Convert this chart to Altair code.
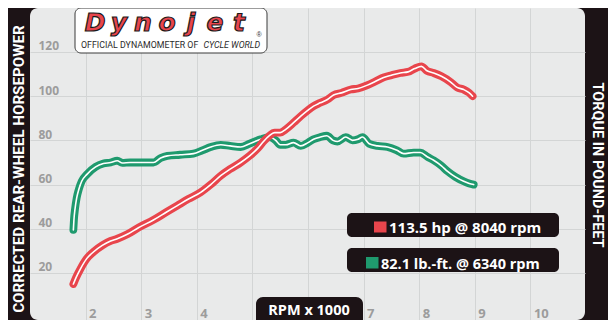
import altair as alt
import pandas as pd

# ---------------- data ----------------
hp_rpm = [1.78, 1.83, 1.91, 2.02, 2.14, 2.3, 2.45, 2.57, 2.75, 2.95, 3.22, 3.45, 3.65, 3.85,
          4.07, 4.25, 4.43, 4.6, 4.79, 4.95, 5.1, 5.2, 5.3, 5.4, 5.5, 5.6, 5.74, 5.87, 5.99,
          6.1, 6.22, 6.35, 6.46, 6.6, 6.77, 6.9, 7.07, 7.2, 7.36, 7.5, 7.66, 7.8, 7.92, 8.04,
          8.14, 8.26, 8.4, 8.56, 8.68, 8.8, 8.9, 8.96]
hp_val = [15, 18, 22, 26.5, 29.5, 32.5, 34.5, 35.5, 37.5, 40.5, 44, 47.5, 50.5, 53.5,
          56.5, 60, 64, 67, 70, 73, 76.5, 79.5, 82, 83.5, 83.5, 85, 88, 91, 93.5,
          95.5, 97, 98.5, 100.5, 101.5, 103, 103.5, 105, 106.5, 108.5, 109.5, 110.5, 111, 112.5, 113.5,
          111.5, 110.5, 109, 106.5, 104, 103, 101.5, 100]

tq_rpm = [1.78, 1.79, 1.81, 1.84, 1.88, 1.93, 2.02, 2.18, 2.32, 2.45, 2.57, 2.66, 2.8, 3.0,
          3.22, 3.35, 3.47, 3.7, 3.94, 4.1, 4.25, 4.43, 4.6, 4.79, 4.95, 5.15, 5.3, 5.42,
          5.5, 5.6, 5.74, 5.87, 6.0, 6.1, 6.22, 6.34, 6.45, 6.53, 6.68, 6.8, 6.9, 6.98,
          7.1, 7.25, 7.43, 7.6, 7.72, 7.9, 8.02, 8.15, 8.26, 8.4, 8.51, 8.65, 8.8, 8.9, 8.98]
tq_val = [39.5, 44, 49, 54, 58, 61.5, 64.5, 68, 69.5, 70, 70.8, 69.8, 70, 70,
          70, 72, 73, 73.5, 74, 75.5, 77, 78, 77.5, 77, 78.5, 80.5, 81.5, 80,
          78, 78, 79, 77.5, 79, 80.5, 81.5, 82.1, 80, 79.5, 81.5, 80, 80.5, 81.5,
          78.5, 77.5, 77, 75.5, 74, 74.5, 74.5, 72.5, 71, 68.5, 66, 63.5, 61.5, 60.5, 60]

x_ticks = [2, 3, 4, 5, 6, 7, 8, 9, 10]
y_ticks = [20, 40, 60, 80, 100, 120]

y_title_left = "CORRECTED REAR-WHEEL HORSEPOWER"
y_title_right = "TORQUE IN POUND-FEET"
x_title = "RPM x 1000"
legend_hp = "113.5 hp @ 8040 rpm"
legend_tq = "82.1 lb.-ft. @ 6340 rpm"
logo_letters = list("Dynojet")
logo_sub1 = "OFFICIAL DYNAMOMETER OF"
logo_sub2 = "CYCLE WORLD"

RED = "#e8454c"
GREEN = "#1f9a6e"
DARK = "#1c1316"
PANEL = "#e9eaea"

hp_df = pd.DataFrame({"rpm": hp_rpm, "v": hp_val})
tq_df = pd.DataFrame({"rpm": tq_rpm, "v": tq_val})
one = pd.DataFrame({"a": [0]})

xs = alt.Scale(domain=[1, 10.982], nice=False, zero=False)
ys = alt.Scale(domain=[-1.27, 139.9], nice=False, zero=False)

x_enc = alt.X("rpm:Q", scale=xs, axis=alt.Axis(
    values=x_ticks, grid=True, domain=False, ticks=False, title=None,
    labelAlign="left", labelBaseline="alphabetic", labelPadding=-3, labelOffset=3,
    labelFontSize=13, labelExpr="datum.value == 5 || datum.value == 6 ? '' : datum.label"))
y_enc = alt.Y("v:Q", scale=ys, axis=alt.Axis(
    values=y_ticks, grid=True, domain=False, ticks=False, title=None,
    labelAlign="left", labelBaseline="alphabetic", labelPadding=-8, labelOffset=-2,
    labelFontSize=12))


def curve(df, color, width, with_axes=False):
    enc = dict(x=x_enc, y=y_enc) if with_axes else dict(x=alt.X("rpm:Q", scale=xs),
                                                        y=alt.Y("v:Q", scale=ys))
    return alt.Chart(df).mark_line(color=color, strokeWidth=width, strokeCap="round",
                                   strokeJoin="round", interpolate="monotone").encode(**enc)


lines = [
    curve(tq_df, GREEN, 7.8, with_axes=True),
    curve(tq_df, "white", 1.6),
    curve(hp_df, RED, 7.8),
    curve(hp_df, "white", 1.6),
]


def box(x, x2, y, y2, fill, **kw):
    return alt.Chart(one).mark_rect(fill=fill, **kw).encode(
        x=alt.value(x), x2=alt.value(x2), y=alt.value(y), y2=alt.value(y2))


def label(x, y, text, **kw):
    return alt.Chart(one).mark_text(text=text, **kw).encode(x=alt.value(x), y=alt.value(y))


TITLE_FONT = "Roboto"

deco = [
    # side titles on black bars
    label(-11, 161, y_title_left, angle=270, font=TITLE_FONT, fontWeight="bold",
          fontSize=15.2, color="white", align="center", baseline="middle"),
    label(567, 157, y_title_right, angle=90, font=TITLE_FONT, fontWeight="bold",
          fontSize=14.5, color="white", align="center", baseline="middle"),
    # x title tab
    box(226, 333, 289, 314, DARK, cornerRadiusTopLeft=7, cornerRadiusTopRight=7),
    label(279, 307, x_title, font="Open Sans", fontWeight="bold", fontSize=14.5,
          color="white", align="center", baseline="alphabetic"),
    # logo
    box(45, 237, 0, 45, "white", stroke="#3a3a3a", strokeWidth=1, cornerRadius=6),
    alt.Chart(pd.DataFrame({"ch": logo_letters, "i": list(range(len(logo_letters)))}))
    .transform_calculate(px="65 + datum.i * 24")
    .mark_text(font="DejaVu Sans", fontWeight="bold", fontStyle="italic", fontSize=25,
               fill=RED, stroke="#1a1a1a", strokeWidth=1.2, align="center",
               baseline="alphabetic")
    .encode(x=alt.X("px:Q", scale=None), y=alt.value(23), text="ch:N"),
    label(229, 27, "®", fontSize=7, color="#333", align="center", baseline="middle"),
    label(51, 40, logo_sub1, font="Roboto", fontSize=8.8, color="#2b2b2b",
          align="left", baseline="alphabetic"),
    label(230, 40, logo_sub2, font="Roboto", fontSize=8.8, fontStyle="italic",
          color="#2b2b2b", align="right", baseline="alphabetic"),
    # legend boxes
    box(317, 529, 205, 229, DARK, cornerRadius=5),
    box(317, 529, 240, 264, DARK, cornerRadius=5),
    box(344, 356.5, 213.5, 224.5, RED),
    box(336, 348.5, 249, 260.5, GREEN),
    label(359, 224.5, legend_hp, font="Open Sans", fontWeight="bold", fontSize=15,
          color="white", align="left", baseline="alphabetic"),
    label(351, 260.5, legend_tq, font="Open Sans", fontWeight="bold", fontSize=14.5,
          color="white", align="left", baseline="alphabetic"),
]

chart = alt.layer(*lines, *deco).properties(
    width=555, height=312,
    padding={"left": 22, "right": 23, "top": 0, "bottom": 0},
    autosize=alt.AutoSizeParams(type="none"),
    background=DARK,
).configure_view(
    fill=PANEL, stroke=None, cornerRadius=8
).configure_axis(
    labelFont="Open Sans", labelFontWeight="bold", labelColor="#9c9c9c",
    gridColor="#d3d5d5", gridWidth=1
)

chart.save("out.html", embed_options={"renderer": "svg", "actions": False})
